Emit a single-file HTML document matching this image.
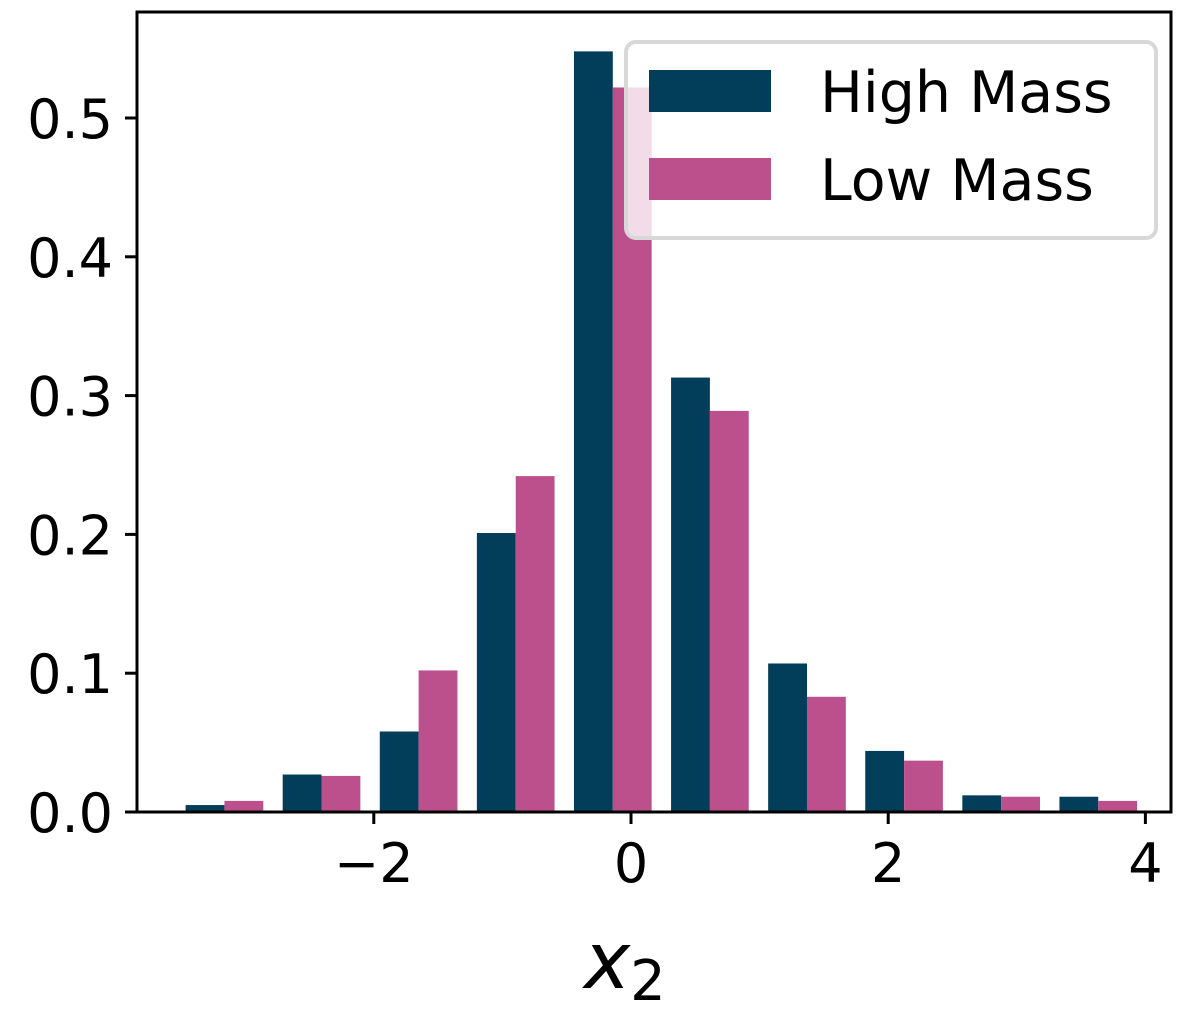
<!DOCTYPE html>
<html><head><meta charset="utf-8"><style>
html,body{margin:0;padding:0;background:#fff;}
svg text{font-family:"DejaVu Sans","Liberation Sans",sans-serif;}
</style></head><body>
<svg id="chart" width="1200" height="1007" viewBox="0 0 1200 1007">
<g id="bars"></g>
<g id="axes"></g>
<g>
<rect x="626" y="42" width="530" height="196" rx="10" fill="rgba(255,255,255,0.8)" stroke="#d8d8d8" stroke-width="4"/>
<rect x="649" y="70" width="122" height="42" fill="#023e5a"/>
<rect x="649" y="158" width="122" height="42" fill="#bc508d"/>
<text x="820" y="112" font-size="57" fill="#000">High Mass</text>
<text x="820" y="200" font-size="57" fill="#000">Low Mass</text>
</g>
<text x="584" y="988" font-size="78" font-style="italic" fill="#000">x<tspan font-style="normal" font-size="56" dy="12">2</tspan></text>
</svg>
<script>
const binEdges0 = -3.539;
const binWidth = 0.755;
const highMass = [0.005, 0.027, 0.058, 0.201, 0.548, 0.313, 0.107, 0.044, 0.012, 0.011];
const lowMass = [0.008, 0.026, 0.102, 0.242, 0.522, 0.289, 0.083, 0.037, 0.011, 0.008];
const xTicks = [-2, 0, 2, 4];
const xTickLabels = ["\u22122", "0", "2", "4"];
const yTicks = [0, 0.1, 0.2, 0.3, 0.4, 0.5];
const yTickLabels = ["0.0", "0.1", "0.2", "0.3", "0.4", "0.5"];

const L=137,R=1171,T=12,B=812;
function sx(v){return 631+v*128.6;}
function sy(v){return B-v*1388;}
const NS="http://www.w3.org/2000/svg";
const bars=document.getElementById('bars');
const axes=document.getElementById('axes');
function mk(tag,attrs,parent){const e=document.createElementNS(NS,tag);for(const k in attrs)e.setAttribute(k,attrs[k]);parent.appendChild(e);return e;}
const series=[[highMass,'#023e5a','high-mass'],[lowMass,'#bc508d','low-mass']];
series.forEach((s,si)=>{
  s[0].forEach((v,i)=>{
    const left=binEdges0+i*binWidth+binWidth*0.1+si*binWidth*0.4;
    const x0=sx(left),x1=sx(left+binWidth*0.4);
    const r=mk('rect',{x:x0,y:sy(v),width:x1-x0,height:B-sy(v),fill:s[1]},bars);
    
    
  });
});
const frame=mk('rect',{x:L,y:T,width:R-L,height:B-T,fill:'none',stroke:'#000','stroke-width':3},axes);


xTicks.forEach((v,i)=>{
  const t=mk('line',{x1:sx(v),x2:sx(v),y1:B,y2:B+12,stroke:'#000','stroke-width':3},axes);
  
  
  const tx=mk('text',{x:sx(v),y:B+70,'font-size':54,'text-anchor':'middle',fill:'#000'},axes);
  tx.textContent=xTickLabels[i];
  
  
});
yTicks.forEach((v,i)=>{
  const t=mk('line',{x1:L-12,x2:L,y1:sy(v),y2:sy(v),stroke:'#000','stroke-width':3},axes);
  
  
  const tx=mk('text',{x:L-24,y:sy(v)+20,'font-size':54,'text-anchor':'end',fill:'#000'},axes);
  tx.textContent=yTickLabels[i];
  
  
});
</script>
</body></html>
